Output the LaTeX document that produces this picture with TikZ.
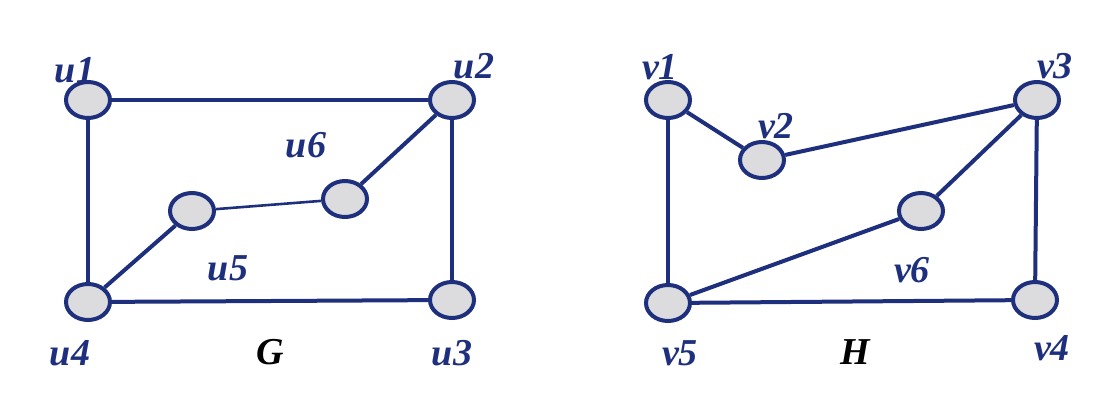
\documentclass[tikz,border=0pt]{standalone}
\usepackage{fontspec}
\setmainfont{Liberation Serif}
\usetikzlibrary{shapes.geometric}
\definecolor{navy}{RGB}{30,48,125}
\definecolor{vfill}{RGB}{220,220,222}
\begin{document}
\begin{tikzpicture}[x=1pt,y=-1pt,
  vert/.style={ellipse,draw=navy,fill=vfill,line width=4pt,minimum width=44pt,minimum height=36pt,inner sep=0pt},
  edge/.style={draw=navy,line width=4pt},
  thinedge/.style={draw=navy,line width=2.6pt},
  lbl/.style={text=navy,font=\fontsize{38}{38}\selectfont\bfseries\itshape,inner sep=0pt},
  gname/.style={text=black,font=\fontsize{38}{38}\selectfont\bfseries\itshape,inner sep=0pt}]
\useasboundingbox (0,0) rectangle (1117,416);
% Graph G
\node[vert] (u1) at (88,100) {};
\node[vert] (u2) at (452,100) {};
\node[vert] (u3) at (452,300) {};
\node[vert] (u4) at (88,302) {};
\node[vert] (u5) at (192,211) {};
\node[vert] (u6) at (345,199) {};
\draw[edge] (u1) -- (u2);
\draw[edge] (u1) -- (u4);
\draw[edge] (u2) -- (u3);
\draw[edge] (u2) -- (u6);
\draw[thinedge] (u6) -- (u5);
\draw[edge] (u5) -- (u4);
\draw[edge] (u4) -- (u3);
\node[lbl] (lu1) at (75,70) {u1};
\node[lbl] (lu2) at (474,66) {u2};
\node[lbl] (lu6) at (306,145) {u6};
\node[lbl] (lu5) at (228,268) {u5};
\node[lbl] (lu4) at (70,353) {u4};
\node[lbl] (lu3) at (452,353) {u3};
\node[gname] (G) at (270,352) {G};
% Graph H
\node[vert] (v1) at (668,100) {};
\node[vert] (v2) at (762,160) {};
\node[vert] (v3) at (1037,100) {};
\node[vert] (v4) at (1035,300) {};
\node[vert] (v5) at (668,303) {};
\node[vert] (v6) at (921,211) {};
\draw[edge] (v1) -- (v2);
\draw[edge] (v2) -- (v3);
\draw[edge] (v1) -- (v5);
\draw[edge] (v3) -- (v4);
\draw[edge] (v3) -- (v6);
\draw[edge] (v6) -- (v5);
\draw[edge] (v5) -- (v4);
\node[lbl] (lv1) at (660,67) {v1};
\node[lbl] (lv2) at (776,126) {v2};
\node[lbl] (lv3) at (1055,66) {v3};
\node[lbl] (lv6) at (912,270) {v6};
\node[lbl] (lv5) at (680,353) {v5};
\node[lbl] (lv4) at (1052,348) {v4};
\node[gname] (H) at (855,352) {H};
\end{tikzpicture}
\end{document}
